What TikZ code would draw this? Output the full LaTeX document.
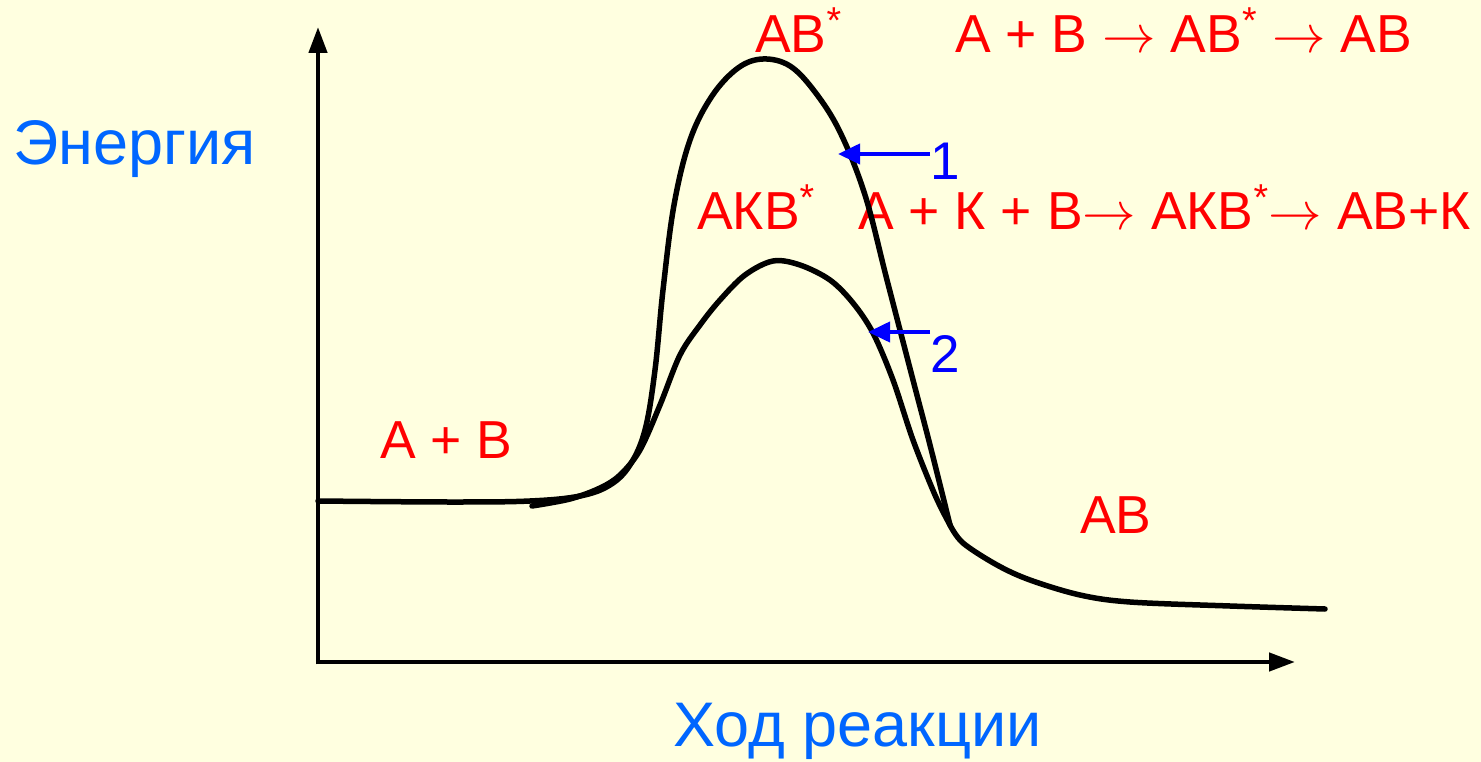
\RequirePackage{fix-cm}
\documentclass[tikz,border=0pt]{standalone}
\usepackage{fontspec}
\setmainfont{Liberation Sans}
\usetikzlibrary{arrows.meta}
\definecolor{bg}{RGB}{255,255,224}
\definecolor{lblue}{RGB}{0,102,255}
\definecolor{ablue}{RGB}{0,0,255}
\definecolor{rred}{RGB}{255,0,0}
\begin{document}
\begin{tikzpicture}[x=1pt,y=-1pt,
 redtxt/.style={text=rred, font=\fontsize{53.5}{60}\selectfont, inner sep=0pt, anchor=base west},
 axl/.style={text=lblue, font=\fontsize{63}{70}\selectfont, inner sep=0pt, anchor=base west},
 num/.style={text=ablue, font=\fontsize{53}{60}\selectfont, inner sep=0pt, anchor=base west},
 curve/.style={line width=5.5pt, line join=round, line cap=round},
 axis/.style={line width=4.5pt, -{Triangle[length=26pt,width=18pt]}},
 ptr/.style={draw=ablue, line width=4pt, -{Triangle[length=22pt,width=20pt]}}
]
\fill[bg] (0,0) rectangle (1481,762);
\useasboundingbox (0,0) rectangle (1481,762);

% axes
\coordinate (O) at (318,662);
\coordinate (ytop) at (318,27);
\coordinate (xend) at (1295,662);
\draw[axis] ([yshift=-2.25pt]O) -- (ytop);
\draw[axis] ([xshift=-2.25pt]O) -- (xend);

% axis labels
\node[axl] (energy) at (13,165) {Энергия};
\node[axl] (xlabel) at (673,746) {Ход реакции};

% red labels
\node[redtxt] (ab1) at (755,53) {АВ\textsuperscript{*}};
\node[redtxt] (eq1) at (955,53) {А + В $\rightarrow$ АВ\textsuperscript{*} $\rightarrow$ АВ};
\node[redtxt] (akb) at (697,230) {АКВ\textsuperscript{*}};
\node[redtxt] (eq2) at (858,230) {А + К + В$\rightarrow$ АКВ\textsuperscript{*}$\rightarrow$ АВ+К};
\node[redtxt] (apb) at (380,458) {А + В};
\node[redtxt] (ab2) at (1080,533) {АВ};

% curve 1 (uncatalysed)
\draw[curve] plot[smooth, tension=0.6] coordinates {(318,501) (450,502) (530,501) (580,496) (610,485) (630,465) (645,430) (655,370) (663,290) (674,205) (690,140) (712,96) (738,68) (763,59) (790,66) (815,92) (840,132) (865,195) (887,280) (913,380) (930,445) (950,525)};
\draw[curve] plot[smooth, tension=0.55] coordinates {(950,525) (963,543) (997,565) (1030,580) (1080,595) (1130,602) (1230,606) (1325,609)};

% curve 2 (catalysed)
\draw[curve] plot[smooth, tension=0.55] coordinates {(532,506) (570,499) (600,488) (620,475) (640,450) (660,405) (680,355) (700,325) (720,300) (745,275) (773,261) (800,265) (830,280) (853,303) (873,333) (893,380) (913,440) (935,495) (950,525)};

% pointers
\node[num] (n1) at (930,180) {1};
\node[num] (n2) at (930,372) {2};
\coordinate (c1) at (838,154);
\coordinate (c2) at (868,332);
\draw[ptr] (n1.west |- c1) -- (c1);
\draw[ptr] (n2.west |- c2) -- (c2);
\end{tikzpicture}
\end{document}
